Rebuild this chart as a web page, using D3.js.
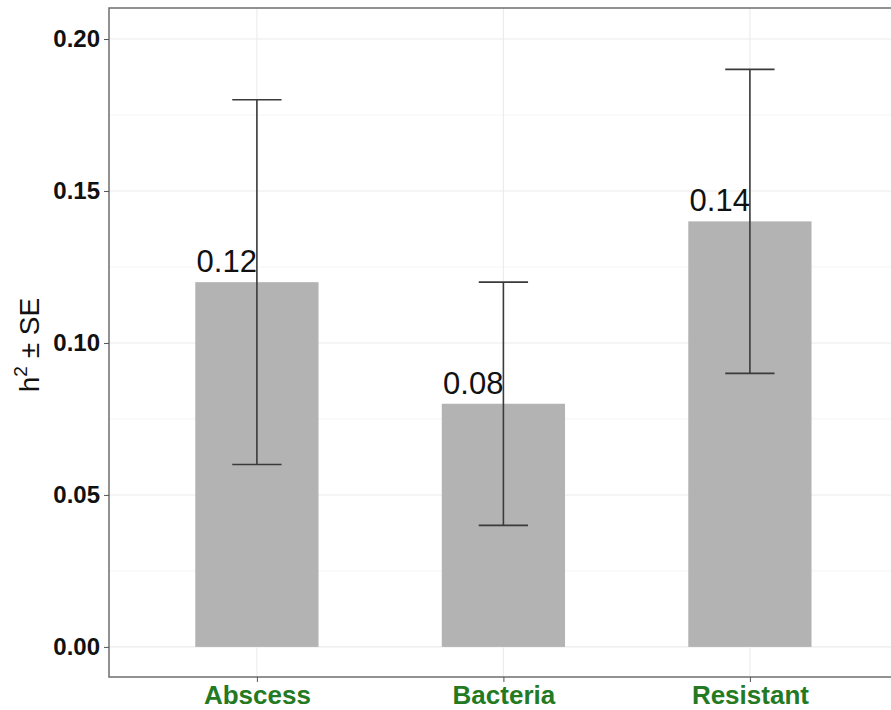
<!DOCTYPE html>
<html>
<head>
<meta charset="utf-8">
<script src="https://cdn.jsdelivr.net/npm/d3@7"></script>
<style>
  body { margin: 0; background: #fff; }
  svg { display: block; font-family: "Liberation Sans", Arial, sans-serif; }
</style>
</head>
<body>
<svg id="chart" width="891" height="710"></svg>
<script>
// data
var traits = ["Abscess", "Bacteria", "Resistant"];
var h2 = [0.12, 0.08, 0.14];
var seLow = [0.06, 0.04, 0.09];
var seHigh = [0.18, 0.12, 0.19];
var labels = ["0.12", "0.08", "0.14"];
var yTicks = [0, 0.05, 0.10, 0.15, 0.20];
var yMinor = [0.025, 0.075, 0.125, 0.175];

var svg = d3.select("#chart");

// panel edges (note: "top" is taken by window.top)
var panelL = 109, panelT = 8, panelB = 677;
var step = 246.5;
var panelR = panelL + step * 3.2;

var x = d3.scalePoint().domain(traits).range([panelL, panelR]).padding(0.6);
var y = d3.scaleLinear().domain([-0.0099, 0.2102]).range([panelB, panelT]);

var barW = step * 0.5, whiskW = step * 0.2;

var rows = traits.map(function(t, i){
  return { name: t, val: h2[i], lo: seLow[i], hi: seHigh[i], lab: labels[i] };
});

var g = svg.append("g");

// grid
g.selectAll(".minor").data(yMinor).enter().append("line")
  .attr("x1", panelL).attr("x2", panelR)
  .attr("y1", function(d){ return y(d); }).attr("y2", function(d){ return y(d); })
  .attr("stroke", "#f2f2f2").attr("stroke-width", 0.8);

g.selectAll(".major").data(yTicks).enter().append("line")
  .attr("x1", panelL).attr("x2", panelR)
  .attr("y1", function(d){ return y(d); }).attr("y2", function(d){ return y(d); })
  .attr("stroke", "#ebebeb").attr("stroke-width", 1.1);

g.selectAll(".vgrid").data(traits).enter().append("line")
  .attr("x1", function(d){ return x(d); }).attr("x2", function(d){ return x(d); })
  .attr("y1", panelT).attr("y2", panelB)
  .attr("stroke", "#ebebeb").attr("stroke-width", 1.1);

// bars
g.selectAll(".bar").data(rows).enter().append("rect")
  .attr("class", "bar")
  .attr("x", function(d){ return x(d.name) - barW / 2; })
  .attr("y", function(d){ return y(d.val); })
  .attr("width", barW)
  .attr("height", function(d){ return y(0) - y(d.val); })
  .attr("fill", "#b3b3b3");

// error bars
var eb = g.selectAll(".err").data(rows).enter().append("g")
  .attr("stroke", "#3a3a3a").attr("stroke-width", 1.6);
eb.append("line")
  .attr("x1", function(d){ return x(d.name); }).attr("x2", function(d){ return x(d.name); })
  .attr("y1", function(d){ return y(d.lo); }).attr("y2", function(d){ return y(d.hi); });
eb.append("line")
  .attr("x1", function(d){ return x(d.name) - whiskW / 2; }).attr("x2", function(d){ return x(d.name) + whiskW / 2; })
  .attr("y1", function(d){ return y(d.hi); }).attr("y2", function(d){ return y(d.hi); });
eb.append("line")
  .attr("x1", function(d){ return x(d.name) - whiskW / 2; }).attr("x2", function(d){ return x(d.name) + whiskW / 2; })
  .attr("y1", function(d){ return y(d.lo); }).attr("y2", function(d){ return y(d.lo); });

// value labels
g.selectAll(".lab").data(rows).enter().append("text")
  .attr("x", function(d){ return x(d.name); })
  .attr("y", function(d){ return y(d.val) - 10; })
  .attr("text-anchor", "end")
  .attr("font-size", 31)
  .attr("fill", "#111")
  .text(function(d){ return d.lab; });

// panel border
g.append("rect")
  .attr("x", panelL).attr("y", panelT)
  .attr("width", panelR - panelL).attr("height", panelB - panelT)
  .attr("fill", "none").attr("stroke", "#6e6e6e").attr("stroke-width", 1.5);

// y axis
var yAxis = svg.append("g").attr("transform", "translate(" + panelL + ",0)")
  .call(d3.axisLeft(y).tickValues(yTicks).tickSize(5).tickPadding(4)
    .tickFormat(d3.format(".2f")));
yAxis.select(".domain").remove();
yAxis.selectAll("line").attr("stroke", "#555");
yAxis.selectAll("text").attr("font-size", 24).attr("font-weight", "bold")
  .attr("fill", "#111").attr("font-family", "Liberation Sans, Arial, sans-serif");

// x axis
var xAxis = svg.append("g").attr("transform", "translate(0," + panelB + ")")
  .call(d3.axisBottom(x).tickSize(5).tickPadding(4));
xAxis.select(".domain").remove();
xAxis.selectAll("line").attr("stroke", "#555");
xAxis.selectAll("text").attr("font-size", 26).attr("font-weight", "bold")
  .attr("fill", "#237a23").attr("font-family", "Liberation Sans, Arial, sans-serif");

// y title
var yt = svg.append("text")
  .attr("transform", "translate(39,345) rotate(-90)")
  .attr("text-anchor", "middle")
  .attr("font-size", 28)
  .attr("fill", "#111");
yt.append("tspan").text("h");
yt.append("tspan").attr("font-size", 19).attr("dy", -12).text("2");
yt.append("tspan").attr("dy", 12).text(" \u00b1 SE");
</script>
</body>
</html>
